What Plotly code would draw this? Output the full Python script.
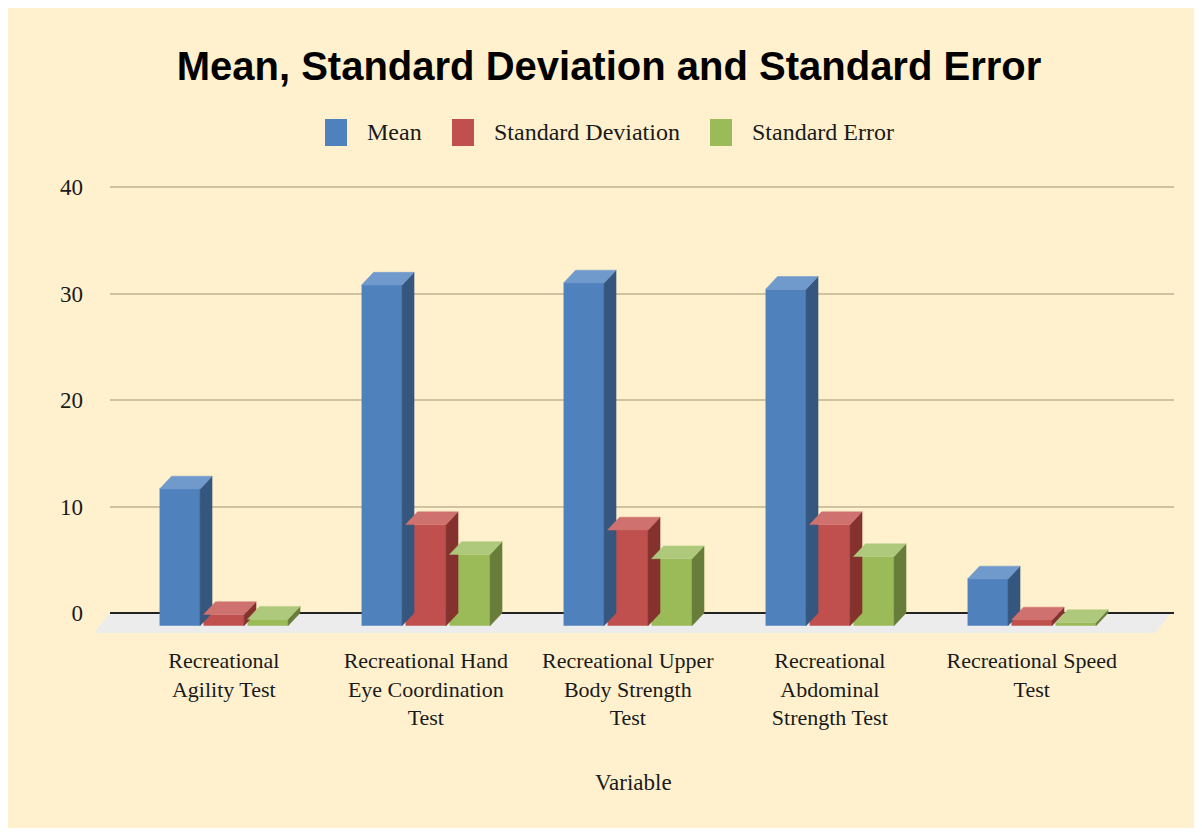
import plotly.graph_objects as go

# ---------------- data ----------------
categories = [
    "Recreational<br>Agility Test",
    "Recreational Hand<br>Eye Coordination<br>Test",
    "Recreational Upper<br>Body Strength<br>Test",
    "Recreational<br>Abdominal<br>Strength Test",
    "Recreational Speed<br>Test",
]
series_names = ["Mean", "Standard Deviation", "Standard Error"]
mean_vals = [12.85, 32.0, 32.2, 31.6, 4.4]
sd_vals = [1.05, 9.5, 9.0, 9.5, 0.55]
se_vals = [0.62, 6.7, 6.3, 6.5, 0.3]
y_ticks = [0, 10, 20, 30, 40]

# ---------------- style ----------------
front_cols = ["#4F81BD", "#C0504D", "#9BBB59"]
side_cols = ["#34567F", "#85322F", "#687D3A"]
top_cols = ["#7099CC", "#CF716E", "#AFC97C"]
BG = "#FFF1CD"
SERIF = "Liberation Serif, Times New Roman, serif"

OFF = 8                      # page offset of the figure (body margin)
W_PX, H_PX = 1188, 820
L, R, T, B = 102, 22, 177, 195
PW, PH = W_PX - L - R, H_PX - T - B

X_RANGE = [-0.5634, 4.704]
Y_RANGE = [-1.88, 40.2]
BAR_W = 0.2005        # bar width (category units)
STEP = 0.2178         # offset between bars in a group
DX = 0.0594           # 3D depth, x (category units)
DEPTH = 1.2           # 3D depth, y (value units)


def px(x):
    return (x - OFF - L) / PW


def py(y):
    return (T + PH - (y - OFF)) / PH


fig = go.Figure()

all_series = [mean_vals, sd_vals, se_vals]
for s, (name, vals) in enumerate(zip(series_names, all_series)):
    off = (s - 1) * STEP
    xs = [i + off for i in range(len(vals))]
    fig.add_trace(go.Bar(
        x=xs, y=vals, base=[-DEPTH] * len(vals), width=BAR_W, name=name,
        marker=dict(color=front_cols[s], line=dict(width=0)),
        showlegend=False, hoverinfo="skip",
    ))
    sx, sy, tx, ty = [], [], [], []
    for xc, v in zip(xs, vals):
        x0, x1 = xc - BAR_W / 2, xc + BAR_W / 2
        sx += [x1, x1 + DX, x1 + DX, x1, x1, None]
        sy += [-DEPTH, 0, v, v - DEPTH, -DEPTH, None]
        tx += [x0, x0 + DX, x1 + DX, x1, x0, None]
        ty += [v - DEPTH, v, v, v - DEPTH, v - DEPTH, None]
    fig.add_trace(go.Scatter(x=sx, y=sy, mode="lines", fill="toself",
                             fillcolor=side_cols[s],
                             line=dict(color=side_cols[s], width=0.5),
                             showlegend=False, hoverinfo="skip"))
    fig.add_trace(go.Scatter(x=tx, y=ty, mode="lines", fill="toself",
                             fillcolor=top_cols[s],
                             line=dict(color=top_cols[s], width=0.5),
                             showlegend=False, hoverinfo="skip"))

shapes = []
# floor
fl, fr, fdx = px(110), px(1171), 16 / PW
shapes.append(dict(type="path", xref="paper", yref="y", layer="below",
                   path=f"M {fl},0 L {fr},0 L {fr - fdx},{Y_RANGE[0]} L {fl - fdx},{Y_RANGE[0]} Z",
                   fillcolor="#ECECEC", line=dict(width=0)))

# custom legend
annotations = []
leg = [(325, 365), (452, 492), (710, 750)]
for s, (sq, tx) in enumerate(leg):
    shapes.append(dict(type="rect", xref="paper", yref="paper",
                       x0=px(sq), x1=px(sq + 22), y0=py(146), y1=py(119),
                       fillcolor=front_cols[s], line=dict(width=0)))
    annotations.append(dict(text=series_names[s], xref="paper", yref="paper",
                            x=px(tx), y=py(132), xanchor="left", yanchor="middle",
                            showarrow=False, font=dict(family=SERIF, size=24, color="#1a1a1a")))

annotations.append(dict(text="Variable", xref="paper", yref="paper",
                        x=px(633), y=py(782), xanchor="center", yanchor="middle",
                        showarrow=False, font=dict(family=SERIF, size=23, color="#1a1a1a")))

fig.update_layout(
    width=W_PX, height=H_PX,
    margin=dict(l=L, r=R, t=T, b=B, pad=0),
    paper_bgcolor=BG, plot_bgcolor="rgba(0,0,0,0)",
    barmode="overlay",
    showlegend=False,
    title=dict(text="Mean, Standard Deviation and Standard Error",
               x=(609 - OFF) / W_PX, xref="container", xanchor="center",
               y=1 - (66 - OFF) / H_PX, yref="container", yanchor="middle",
               font=dict(family="Liberation Sans, Arial, sans-serif", size=40,
                         color="black", weight="bold")),
    xaxis=dict(range=X_RANGE, tickmode="array", tickvals=list(range(len(categories))),
               ticktext=categories, showgrid=False, zeroline=False, showline=False,
               ticks="", ticklabelstandoff=12,
               tickfont=dict(family=SERIF, size=22, color="#1a1a1a")),
    yaxis=dict(range=Y_RANGE, tickmode="array", tickvals=y_ticks,
               showgrid=True, gridcolor="#CEC29F", gridwidth=2,
               zeroline=True, zerolinecolor="#222222", zerolinewidth=2,
               showline=False, ticks="", ticklabelstandoff=26,
               tickfont=dict(family=SERIF, size=23, color="#1a1a1a")),
    shapes=shapes,
    annotations=annotations,
)

fig.write_html("out.html")
